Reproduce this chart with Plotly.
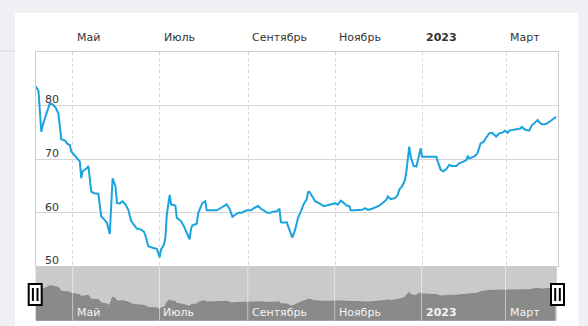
import pandas as pd
import plotly.graph_objects as go

# ---- data ----
start_date = "2022-04-05"
end_date = "2023-04-06"
day_offsets = [0, 2, 4, 5, 8, 10, 12, 14, 16, 18, 21, 22, 24, 25, 27, 29, 31, 32, 33, 36, 37, 39, 41, 44, 46, 48, 50, 52,
               54, 56, 57, 59, 61, 63, 65, 67, 69, 71, 74, 76, 77, 79, 82, 84, 85, 87, 88, 90, 91, 92, 94, 95, 98, 99,
               102, 104, 106, 108, 109, 110, 113, 114, 116, 117, 119, 120, 123, 127, 129, 132, 134, 136, 138, 141, 143,
               144, 146, 148, 151, 153, 156, 158, 160, 162, 164, 167, 169, 171, 172, 174, 176, 178, 180, 182, 184, 186,
               188, 190, 191, 192, 194, 196, 199, 202, 204, 207, 210, 212, 214, 216, 218, 220, 221, 223, 226, 229, 231,
               233, 236, 239, 241, 244, 246, 247, 249, 252, 254, 255, 257, 259, 260, 262, 263, 265, 267, 270, 271, 273,
               276, 279, 281, 282, 284, 286, 288, 290, 292, 295, 297, 300, 302, 303, 304, 307, 309, 310, 312, 314, 316,
               318, 320, 322, 323, 325, 327, 329, 331, 332, 335, 337, 340, 341, 343, 346, 348, 350, 352, 353, 355, 357,
               359, 361, 364, 365]
rate_values = [83.6, 82.8, 75.1, 76.3, 78.8, 80.4, 80.2, 79.6, 78.5, 73.7, 73.4, 72.9, 72.6, 71.4, 70.8, 70.1, 69.5,
               66.4, 67.7, 68.3, 68.7, 63.9, 63.6, 63.5, 59.3, 58.7, 58.1, 56.0,
               66.4, 64.9, 61.8, 61.7, 62.1, 61.5, 60.5, 58.4, 57.6, 57.0, 56.8, 56.4, 55.7, 53.7, 53.4, 53.3, 53.2,
               51.6, 53.1, 54.0, 55.3, 59.6, 63.3, 61.5, 61.3, 59.0,
               58.4, 57.4, 56.2, 55.0, 57.0, 57.6, 57.9, 59.9, 61.2, 61.8, 62.1, 60.4, 60.4, 60.4, 60.7, 61.2, 61.5,
               60.7, 59.2, 59.8, 60.0,
               59.9, 60.2, 60.4, 60.4, 60.8, 61.2, 60.7, 60.4, 60.0, 59.9, 60.2, 60.2, 60.7, 58.2, 58.1, 58.2, 56.8,
               55.3, 56.8, 59.0, 60.2,
               61.6, 62.4, 63.8, 63.9, 63.1, 62.1, 61.7, 61.2, 61.3, 61.5, 61.7, 61.5, 62.2, 61.8, 61.3, 61.2, 60.4,
               60.4, 60.4, 60.5, 60.8,
               60.5, 60.7, 61.0, 61.3, 61.9, 62.4, 63.0, 62.5, 62.7, 63.3, 64.3, 64.9, 66.1, 67.7, 72.3, 70.4, 68.7,
               68.6, 72.0, 70.4, 70.4,
               70.4, 70.4, 70.4, 69.5, 68.0, 67.7, 68.1, 68.9, 68.7, 68.7, 69.2, 69.5, 69.8, 70.6, 70.1, 70.4, 70.8,
               71.2, 72.9, 73.2, 73.9,
               74.8, 74.9, 74.5, 74.2, 74.8, 74.9, 75.3, 74.9, 75.3, 75.5, 75.5, 75.7, 76.0, 75.5, 75.3, 76.3, 76.8,
               77.3, 76.9, 76.5, 76.5,
               76.7, 77.1, 77.6, 77.9]
month_ticks = ["2022-05-01", "2022-07-01", "2022-09-01", "2022-11-01", "2023-01-01", "2023-03-01"]
month_labels = ["Май", "Июль", "Сентябрь", "Ноябрь", "<b>2023</b>", "Март"]
y_ticks = [50, 60, 70, 80]
y_range = [50, 90]
nav_y_range = [37.5, 104]

dates = (pd.Timestamp(start_date) + pd.to_timedelta(day_offsets, unit="D")).strftime("%Y-%m-%d").tolist()

W, H = 588, 326
def px(x):
    return x / W
def py(y):
    return 1 - y / H

PL, PR = 35.6, 557.6
MAIN_T, MAIN_B = 52, 266
NAV_T, NAV_B = 266.7, 320.7
FONT = "DejaVu Sans, Verdana, sans-serif"

fig = go.Figure()
fig.add_trace(go.Scatter(x=dates, y=rate_values, mode="lines",
                         line=dict(color="#1ba3dd", width=2),
                         xaxis="x", yaxis="y", hoverinfo="skip"))
fig.add_trace(go.Scatter(x=dates, y=rate_values, mode="lines", fill="tozeroy",
                         fillcolor="#8a8a8a", line=dict(color="#858585", width=1),
                         xaxis="x2", yaxis="y2", hoverinfo="skip"))

shapes = [
    # white card
    dict(type="rect", xref="paper", yref="paper", x0=px(15), x1=px(578.3), y0=py(330), y1=py(12.7),
         fillcolor="white", line=dict(width=0), layer="below"),
    # background separator on the left
    dict(type="line", xref="paper", yref="paper", x0=0, x1=px(14.7), y0=py(51), y1=py(51),
         line=dict(color="#d4d6d9", width=1), layer="below"),
    # navigator background
    dict(type="rect", xref="paper", yref="paper", x0=px(PL), x1=px(PR - 0.8), y0=py(NAV_B), y1=py(NAV_T),
         fillcolor="#cacaca", line=dict(width=0), layer="below"),
]
# navigator grid lines (over the area)
for t in month_ticks:
    shapes.append(dict(type="line", xref="x2", yref="paper", x0=t, x1=t, y0=py(NAV_B), y1=py(NAV_T),
                       line=dict(color="rgba(255,255,255,0.5)", width=1), layer="above"))
# navigator handles
for cx in (35.2, 557.5):
    shapes.append(dict(type="rect", xref="paper", yref="paper", x0=px(cx - 6.5), x1=px(cx + 6.5),
                       y0=py(305), y1=py(284), fillcolor="white", line=dict(color="black", width=2),
                       layer="above"))
    for dx in (-2.3, 2.3):
        shapes.append(dict(type="line", xref="paper", yref="paper", x0=px(cx + dx), x1=px(cx + dx),
                           y0=py(301), y1=py(288), line=dict(color="black", width=2), layer="above"))

annotations = []
for t, lab in zip(month_ticks, month_labels):
    annotations.append(dict(x=t, xref="x", y=py(37), yref="paper", text=lab, showarrow=False,
                            xanchor="left", yanchor="middle", xshift=2,
                            font=dict(family=FONT, size=11, color="#333333")))
    annotations.append(dict(x=t, xref="x2", y=py(312), yref="paper", text=lab, showarrow=False,
                            xanchor="left", yanchor="middle", xshift=2,
                            font=dict(family=FONT, size=11, color="#f4f4f4")))
for v in y_ticks:
    annotations.append(dict(x=px(43), xref="paper", y=v, yref="y", text=str(v), showarrow=False,
                            xanchor="left", yanchor="bottom", yshift=-3,
                            font=dict(family=FONT, size=11, color="#333333")))

fig.update_layout(
    width=W, height=H,
    margin=dict(l=0, r=0, t=0, b=0),
    paper_bgcolor="#eef0f3",
    plot_bgcolor="rgba(0,0,0,0)",
    showlegend=False,
    font=dict(family=FONT, size=11, color="#333333"),
    xaxis=dict(domain=[px(PL), px(PR)], range=[start_date, end_date], type="date",
               tickvals=month_ticks, showticklabels=False, ticks="",
               showgrid=True, gridcolor="#d8d8d8", gridwidth=1, griddash="3px,3px",
               showline=True, mirror=True, linecolor="#cccccc", linewidth=1, zeroline=False,
               anchor="y"),
    yaxis=dict(domain=[py(MAIN_B), py(MAIN_T)], range=y_range, tickvals=y_ticks,
               showticklabels=False, ticks="", showgrid=True, gridcolor="#d6d6d6", gridwidth=1,
               showline=True, mirror=True, linecolor="#cccccc", linewidth=1, zeroline=False,
               anchor="x"),
    xaxis2=dict(domain=[px(PL), px(PR - 0.8)], range=[start_date, end_date], type="date",
                showticklabels=False, ticks="", showgrid=False, showline=False, zeroline=False,
                anchor="y2"),
    yaxis2=dict(domain=[py(NAV_B), py(NAV_T)], range=nav_y_range, showticklabels=False, ticks="",
                showgrid=False, showline=False, zeroline=False, anchor="x2"),
    shapes=shapes,
    annotations=annotations,
)

fig.write_html("out.html")
